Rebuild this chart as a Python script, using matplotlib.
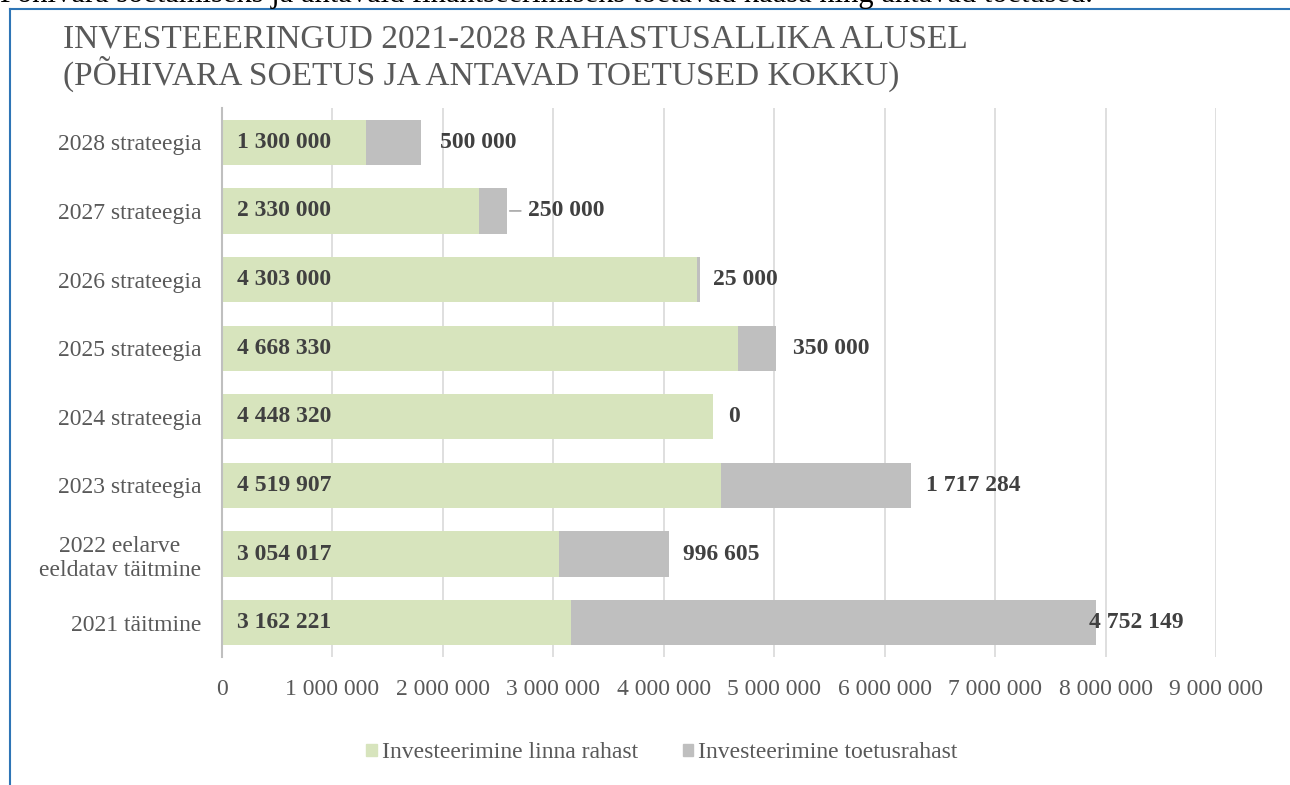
import matplotlib.pyplot as plt
from matplotlib.patches import Patch
from matplotlib.lines import Line2D

categories = ['2028 strateegia', '2027 strateegia', '2026 strateegia', '2025 strateegia',
              '2024 strateegia', '2023 strateegia', '2022 eelarve\neeldatav täitmine', '2021 täitmine']
linna_rahast = [1300000, 2330000, 4303000, 4668330, 4448320, 4519907, 3054017, 3162221]
toetusrahast = [500000, 250000, 25000, 350000, 0, 1717284, 996605, 4752149]
x_ticks = [0, 1000000, 2000000, 3000000, 4000000, 5000000, 6000000, 7000000, 8000000, 9000000]

green = '#D7E4BD'
grey = '#BFBFBF'
txt = '#595959'
dark = '#404040'
serif = ['Liberation Serif', 'DejaVu Serif']


def fmt(v):
    return '{:,}'.format(int(v)).replace(',', ' ')


fig = plt.figure(figsize=(12.9, 7.85), dpi=100)
ax = fig.add_axes([222/1290, 1-657/785, (1216-222)/1290, (657-108)/785])

y = list(range(len(categories)))
ax.barh(y, linna_rahast, height=0.66, color=green, label='Investeerimine linna rahast', zorder=2)
ax.barh(y, toetusrahast, left=linna_rahast, height=0.66, color=grey,
        label='Investeerimine toetusrahast', zorder=2)

ax.set_ylim(len(categories)-0.5, -0.5)
ax.set_xlim(0, 9000000)
ax.set_xticks(x_ticks)
ax.set_xticklabels([fmt(v) for v in x_ticks], family=serif, fontsize=17, color=txt)
ax.set_yticks(y)
ax.set_yticklabels(categories, family=serif, fontsize=17, color=txt)
for lab in ax.get_yticklabels():
    lab.set_multialignment('center')
ax.tick_params(axis='x', length=0, pad=16)
ax.tick_params(axis='y', length=0, pad=15)
ax.grid(axis='x', color='#D9D9D9', linewidth=1.2, zorder=0)
for s in ['top', 'right', 'bottom']:
    ax.spines[s].set_visible(False)
ax.spines['left'].set_color(grey)
ax.spines['left'].set_linewidth(1.5)

# value labels (offsets in points, as dragged in the original)
label_dx = [14, 15, 9, 12, 11, 11, 10, -5]
for i in range(len(categories)):
    ax.annotate(fmt(linna_rahast[i]), (0, i), xytext=(11, 0), textcoords='offset points',
                ha='left', va='center', family=serif, fontsize=17, fontweight='bold', color=dark)
    end = linna_rahast[i] + toetusrahast[i]
    ax.annotate(fmt(toetusrahast[i]), (end, i), xytext=(label_dx[i], 0), textcoords='offset points',
                ha='left', va='center', family=serif, fontsize=17, fontweight='bold', color=dark)
# leader line for 2027
end27 = linna_rahast[1] + toetusrahast[1]
ax.annotate('', (end27, 1), xytext=(10, 0), textcoords='offset points',
            arrowprops=dict(arrowstyle='-', color='#A6A6A6', lw=1.2, shrinkA=0, shrinkB=2))

fig.text(63/1290, 1-48/785, 'INVESTEEERINGUD 2021-2028 RAHASTUSALLIKA ALUSEL',
         family=serif, fontsize=24, color=txt, va='baseline')
fig.text(63/1290, 1-85/785, '(PÕHIVARA SOETUS JA ANTAVAD TOETUSED KOKKU)',
         family=serif, fontsize=24, color=txt, va='baseline')

fig.text(0.0, 1-2/785, 'Põhivara soetamiseks ja antavaid finantseerimiseks toetavad kaasa ning antavad toetused.',
         family=serif, fontsize=22, color='black', va='baseline')

handles = [Patch(color=green, label='Investeerimine linna rahast'),
           Patch(color=grey, label='Investeerimine toetusrahast')]
fig.legend(handles=handles, loc='center', bbox_to_anchor=(0.513, 1-753/785), ncol=2, frameon=False,
           prop={'family': serif, 'size': 17}, labelcolor=txt, handlelength=0.45, handleheight=0.45,
           handletextpad=0.2, columnspacing=1.9)

# blue chart frame
fig.add_artist(Line2D([10/1290, 10/1290], [0, 1-9/785], color='#2E75B6', lw=1.5, transform=fig.transFigure))
fig.add_artist(Line2D([10/1290, 1], [1-9/785, 1-9/785], color='#2E75B6', lw=1.5, transform=fig.transFigure))

fig.savefig('out.png', dpi=100)
